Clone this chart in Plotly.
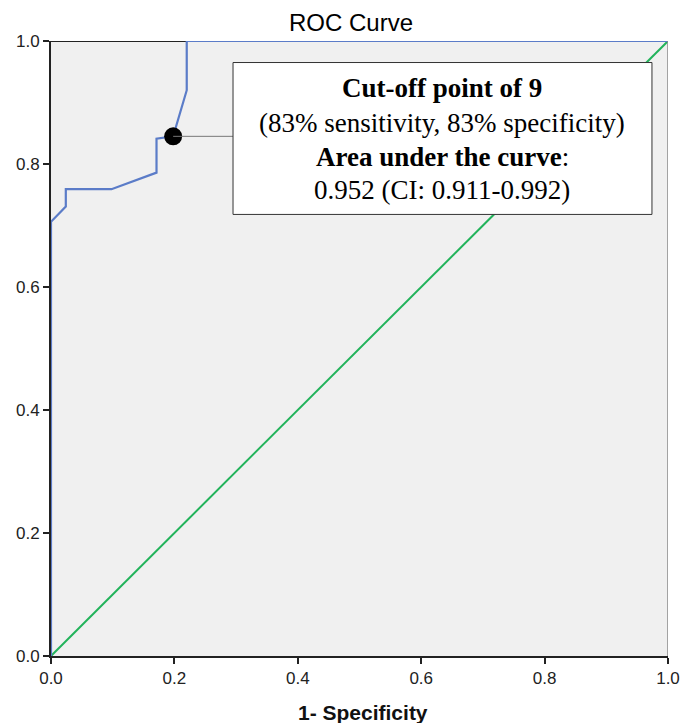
import plotly.graph_objects as go

# ROC curve data
fpr = [0.0, 0.0, 0.024, 0.024, 0.098, 0.171, 0.171, 0.198, 0.22, 0.22, 1.0]
tpr = [0.0, 0.706, 0.731, 0.759, 0.759, 0.786, 0.841, 0.845, 0.92, 1.0, 1.0]
ref_x = [0.0, 1.0]
ref_y = [0.0, 1.0]
cut_x = [0.198]
cut_y = [0.845]
tick_vals = [0.0, 0.2, 0.4, 0.6, 0.8, 1.0]
tick_text = ["0.0", "0.2", "0.4", "0.6", "0.8", "1.0"]
box_lines = [
    "<b>Cut-off point of 9</b>",
    "(83% sensitivity, 83% specificity)",
    "<b>Area under the curve</b>:",
    "0.952 (CI: 0.911-0.992)",
]

SANS = "Liberation Sans Narrow, Liberation Sans, Arial, sans-serif"
SERIF = "Liberation Serif, Times New Roman, serif"

fig = go.Figure()
fig.add_trace(go.Scatter(x=ref_x, y=ref_y, mode="lines",
                         line=dict(color="#22b35b", width=2), cliponaxis=False,
                         hoverinfo="skip"))
fig.add_trace(go.Scatter(x=fpr, y=tpr, mode="lines",
                         line=dict(color="#5b7cc8", width=2.2), cliponaxis=False))

# connector line from point to box
box_x0, box_x1 = 0.295, 0.974
box_y0, box_y1 = 0.718, 0.965
fig.add_shape(type="line", x0=cut_x[0], x1=box_x0, y0=cut_y[0], y1=cut_y[0],
              line=dict(color="#777777", width=1), layer="above")
fig.add_shape(type="rect", x0=box_x0, x1=box_x1, y0=box_y0, y1=box_y1,
              fillcolor="white", line=dict(color="#333333", width=1), layer="above")
fig.add_trace(go.Scatter(x=cut_x, y=cut_y, mode="markers",
                         marker=dict(color="black", size=18), cliponaxis=False))

# right border (gray)
fig.add_shape(type="line", x0=1, x1=1, y0=0, y1=1, xref="x", yref="y",
              line=dict(color="#8a8a8a", width=1.5), layer="above")

line_ys = [0.923, 0.867, 0.812, 0.758]
for txt, yy in zip(box_lines, line_ys):
    fig.add_annotation(x=(box_x0 + box_x1) / 2, y=yy, text=txt, showarrow=False,
                       xanchor="center", yanchor="middle",
                       font=dict(family=SERIF, size=27, color="black"))

fig.add_annotation(x=0.487, y=1.0, xref="paper", yref="paper", yanchor="middle",
                   yshift=19, text="ROC Curve", showarrow=False,
                   font=dict(family=SANS, size=24, color="#000000"))
fig.add_annotation(x=0.505, y=0, xref="paper", yref="paper", yanchor="middle",
                   yshift=-56, text="<b>1- Specificity</b>", showarrow=False,
                   font=dict(family=SANS, size=21, color="#111111"))

axis_common = dict(range=[0, 1], tickvals=tick_vals, ticktext=tick_text,
                   showgrid=False, zeroline=False, showline=True,
                   linecolor="#222222", linewidth=2, ticks="outside",
                   ticklen=6, tickcolor="#222222", tickwidth=1.5,
                   automargin=False,
                   tickfont=dict(family=SANS, size=17, color="#222222"))

# page body has an 8px margin, so the figure is 8px smaller on each side
fig.update_layout(
    width=681, height=715,
    margin=dict(l=43, r=21, t=33, b=67, autoexpand=False),
    plot_bgcolor="#f0f0f0", paper_bgcolor="white",
    showlegend=False,
    xaxis=dict(**axis_common, mirror=False),
    yaxis=dict(**axis_common),
)
fig.add_shape(type="line", x0=0, x1=1, y0=1, y1=1, xref="x", yref="y",
              line=dict(color="#222222", width=2), layer="below")

fig.write_html("out.html")
